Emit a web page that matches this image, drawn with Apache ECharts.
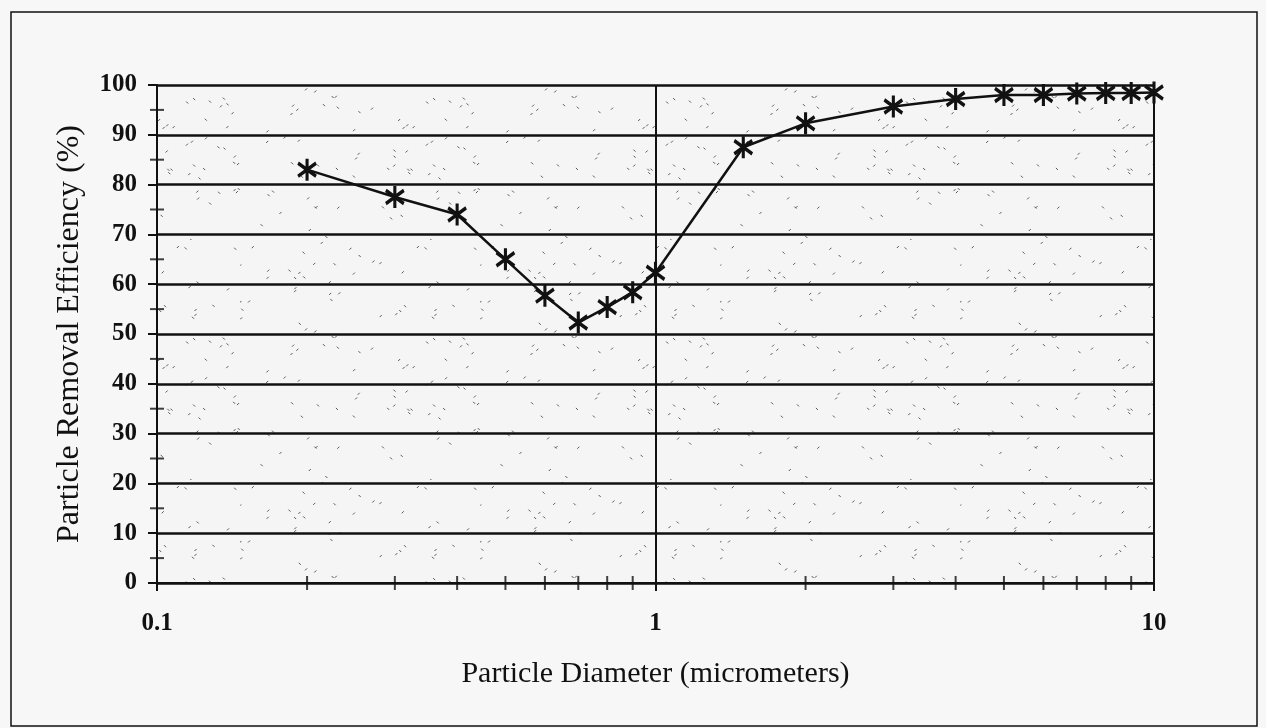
<!DOCTYPE html>
<html>
<head>
<meta charset="utf-8">
<style>
  html, body { margin: 0; padding: 0; background: #f7f7f7; }
  #chart { width: 1266px; height: 728px; }
</style>
<script src="https://cdn.jsdelivr.net/npm/echarts@6/dist/echarts.min.js"></script>
</head>
<body>
<div id="chart"></div>
<script>
// Particle removal efficiency versus particle diameter
const diameters = [0.2, 0.3, 0.4, 0.5, 0.6, 0.7, 0.8, 0.9, 1, 1.5, 2, 3, 4, 5, 6, 7, 8, 9, 10];
const efficiency = [83, 77.5, 74, 65, 57.7, 52.3, 55.4, 58.4, 62.3, 87.5, 92.3, 95.7, 97.2, 98, 98, 98.3, 98.4, 98.4, 98.5];
const xMinorTicks = [0.2, 0.3, 0.4, 0.5, 0.6, 0.7, 0.8, 0.9, 2, 3, 4, 5, 6, 7, 8, 9];
const yMinorTicks = [5, 15, 25, 35, 45, 55, 65, 75, 85, 95];
const xTickLabels = { 0.1: '0.1', 1: '1', 10: '10' };

// speckled fill for the plotting area
function speckle() {
  const c = document.createElement('canvas');
  c.width = 240; c.height = 240;
  const g = c.getContext('2d');
  g.fillStyle = '#f5f5f5';
  g.fillRect(0, 0, 240, 240);
  g.strokeStyle = '#555';
  g.lineWidth = 1;
  let s = 12345;
  const next = () => { s = (s * 1103515245 + 12345) % 2147483648; return s / 2147483648; };
  for (let i = 0; i < 120; i++) {
    const x = next() * 240, y = next() * 240;
    const d = next() < 0.5 ? 1 : -1;
    g.beginPath();
    g.moveTo(x, y);
    g.lineTo(x + 2 * d, y + 2);
    g.stroke();
  }
  return c;
}

const font = '"Liberation Serif", "Times New Roman", serif';
const star = 'path://M0,-10L0,10M-8,-6L8,6M-8,6L8,-6';

const chart = echarts.init(document.getElementById('chart'));
chart.setOption({
  backgroundColor: '#f7f7f7',
  animation: false,
  graphic: [{
    type: 'rect',
    shape: { x: 11, y: 12, width: 1246, height: 714 },
    style: { fill: 'none', stroke: '#111', lineWidth: 1.5 },
    z: 0
  }],
  grid: {
    left: 157, right: 112, top: 85, bottom: 145,
    show: true,
    backgroundColor: { image: speckle(), repeat: 'repeat' },
    borderWidth: 0
  },
  xAxis: {
    type: 'log',
    logBase: 10,
    min: 0.1,
    max: 10,
    name: 'Particle Diameter (micrometers)',
    nameLocation: 'middle',
    nameGap: 76,
    nameTextStyle: { fontFamily: font, fontSize: 30, color: '#111' },
    axisLine: { lineStyle: { color: '#111', width: 2 } },
    axisTick: { show: true, length: 8, inside: false, lineStyle: { color: '#111', width: 2 } },
    axisLabel: {
      fontFamily: font, fontSize: 25, fontWeight: 'bold', color: '#111', margin: 28,
      formatter: v => xTickLabels[v] || String(v)
    },
    splitLine: { show: true, lineStyle: { color: '#111', width: 2 } }
  },
  yAxis: {
    type: 'value',
    min: 0,
    max: 100,
    interval: 10,
    name: 'Particle Removal Efficiency (%)',
    nameLocation: 'middle',
    nameGap: 71,
    nameTextStyle: { fontFamily: font, fontSize: 32, color: '#111' },
    axisLine: { show: true, lineStyle: { color: '#111', width: 2 } },
    axisTick: { show: true, length: 9, lineStyle: { color: '#111', width: 2 } },
    axisLabel: { fontFamily: font, fontSize: 25, fontWeight: 'bold', color: '#111', margin: 20 },
    splitLine: { show: true, lineStyle: { color: '#111', width: 2.5 } }
  },
  series: [
    {
      type: 'scatter',
      data: xMinorTicks.map(v => [v, 0]),
      symbol: 'rect',
      symbolSize: [2, 14],
      itemStyle: { color: '#111' },
      clip: false,
      silent: true,
      z: 3
    },
    {
      type: 'scatter',
      data: yMinorTicks.map(v => [0.1, v]),
      symbol: 'rect',
      symbolSize: [14, 2],
      itemStyle: { color: '#111' },
      clip: false,
      silent: true,
      z: 3
    },
    {
      type: 'line',
      data: diameters.map((d, i) => [d, efficiency[i]]),
      lineStyle: { color: '#111', width: 2.5 },
      symbol: star,
      symbolSize: [18, 22],
      showSymbol: true,
      itemStyle: { color: '#111', borderColor: '#111', borderWidth: 3.4 },
      clip: false,
      z: 5
    }
  ]
});
</script>
</body>
</html>
